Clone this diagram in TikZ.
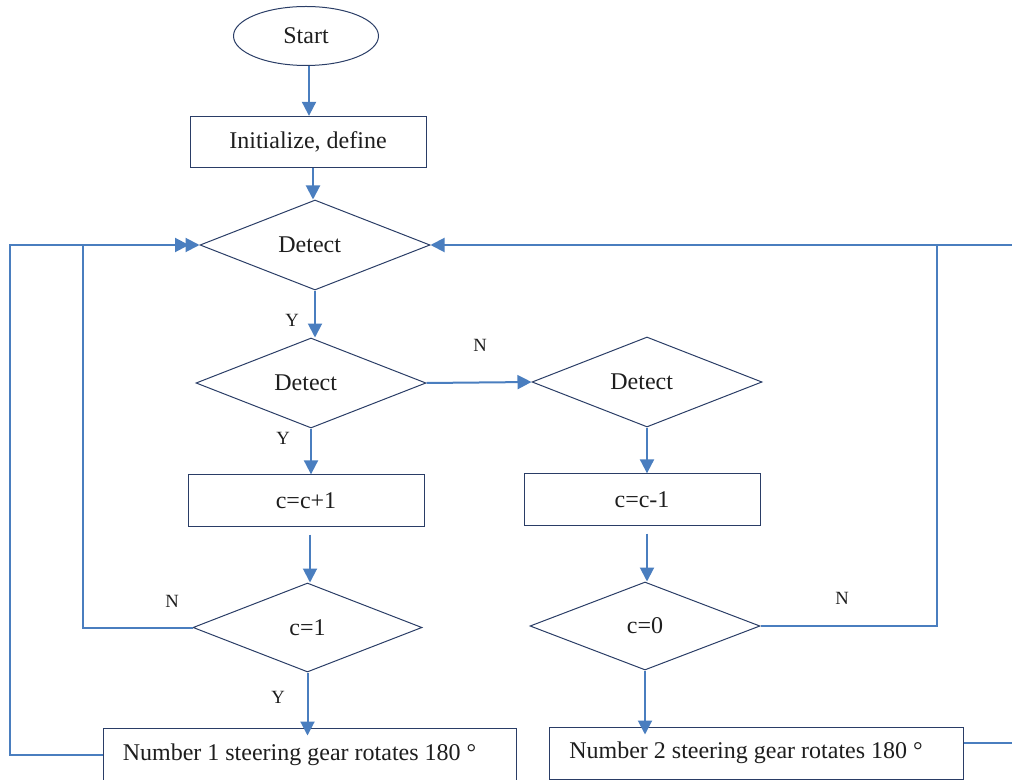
\documentclass[tikz,border=0pt]{standalone}
\usepackage{fontspec}
\setmainfont{Liberation Serif}
\usetikzlibrary{shapes.geometric,arrows.meta}
\definecolor{cblue}{HTML}{4A7EBF}
\definecolor{cnavy}{HTML}{2A3D66}
\definecolor{ctext}{HTML}{1E1E1E}
\begin{document}
\begin{tikzpicture}[x=0.75pt,y=-0.75pt,
  conn/.style={draw=cblue, line width=1.5pt},
  arr/.style={conn, -{Triangle[length=10.5pt,width=10.5pt]}},
  shp/.style={draw=cnavy, line width=0.75pt, inner sep=0pt, text=ctext, font=\fontsize{18}{21}\selectfont},
  dia/.style={shp, diamond, minimum width=172.5pt, minimum height=67.5pt},
  stepbox/.style={shp, rectangle, minimum width=177pt, minimum height=38.5pt},
  lab/.style={text=ctext, font=\fontsize{14}{16}\selectfont}
]
\clip (0,0) rectangle (1012,780);
\useasboundingbox (0,0) rectangle (1012,780);

\node[shp, ellipse, minimum width=108.75pt, minimum height=44.25pt] (start) at (306,36) {\raisebox{-2pt}{Start}};
\node[stepbox] (init) at (308,142) {Initialize, define};
\node[dia] (d1) at (315,245) {\hspace*{-8pt}\raisebox{-2pt}{Detect}};
\node[dia] (d2) at (311,383) {\hspace*{-8pt}Detect};
\node[dia] (d3) at (647,382) {\hspace*{-8pt}Detect};
\node[stepbox] (inc) at (306,500.5) {c=c+1};
\node[stepbox] (dec) at (642,499.5) {c=c-1};
\node[dia, minimum width=171.75pt, minimum height=66.75pt] (c1) at (307.5,627.5) {\raisebox{-2pt}{c=1}};
\node[dia, minimum height=66pt] (c0) at (645,626) {\raisebox{-2pt}{c=0}};
\node[stepbox, minimum width=309.75pt, minimum height=40.5pt] (n1) at (309.5,755) {\hspace*{-15pt}Number 1 steering gear rotates 180 °};
\node[stepbox, minimum width=310.5pt, minimum height=39pt] (n2) at (756,753) {\hspace*{-15pt}Number 2 steering gear rotates 180 °};

\node[lab] (y1) at (292,320) {Y};
\node[lab] (nn1) at (480,345) {N};
\node[lab] (y2) at (283,438) {Y};
\node[lab] (nn2) at (172,601) {N};
\node[lab] (y3) at (278,697) {Y};
\node[lab] (nn3) at (842,598) {N};

\coordinate (xa) at (83,0);
\coordinate (xb) at (10,0);
\coordinate (xc) at (937,0);
\coordinate (dd) at (189,245);
\coordinate (re) at (1012,245);
\coordinate (r2) at (1012,743);

% main flow
\draw[arr] ([xshift=2.25pt]start.south) -- ([xshift=2.25pt]start.south |- init.north);
\draw[arr] ([xshift=3.75pt]init.south) -- ([xshift=3.75pt]init.south |- d1.north);
\draw[arr] (d1.south) -- (d1.south |- d2.north);
\draw[arr] (d2.east) -- (d3.west);
\draw[arr] (d2.south) -- (d2.south |- inc.north);
\draw[arr] ([xshift=3pt,yshift=-6]inc.south) -- ([xshift=3pt]inc.south |- c1.north);
\draw[arr] (c1.south) -- ([yshift=-6]c1.south |- n1.north);
\draw[arr] (d3.south) -- (d3.south |- dec.north);
\draw[arr] ([xshift=3.75pt,yshift=-6]dec.south) -- ([xshift=3.75pt]dec.south |- c0.north);
\draw[arr] (c0.south) -- ([yshift=-6]c0.south |- n2.north);

% loops
\draw[arr] (c1.west) -| (xa |- d1.west) -- (d1.west);
\draw[arr] (n1.west) -| (xb |- d1.west) -- (dd);
\draw[conn] (c0.east) -| (xc |- d1.east);
\draw[arr] (re) -- (d1.east);
\draw[conn] (r2 -| n2.east) -- (r2);
\end{tikzpicture}
\end{document}
